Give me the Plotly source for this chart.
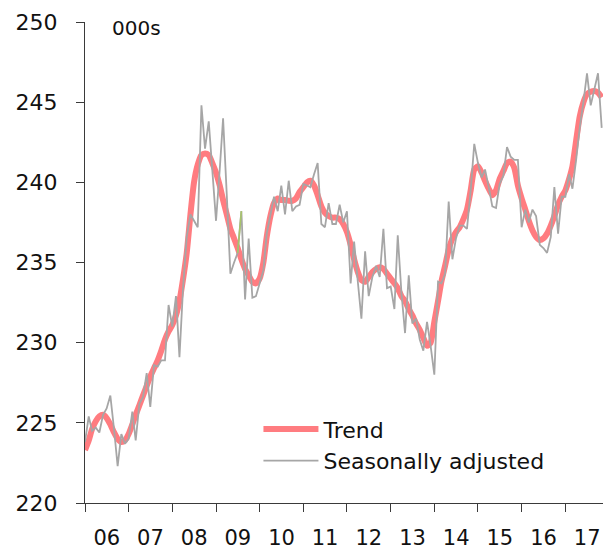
import pandas as pd
import plotly.graph_objects as go

# Monthly data, Jan 2006 - Nov 2017 (000s)
start_month = "2006-01-01"
n_months = 143

trend = [
    223.3, 223.9, 224.6, 225.1, 225.4, 225.5, 225.3, 224.9, 224.4, 224.0, 223.8, 223.9,
    224.3, 224.9, 225.5, 226.1, 226.7, 227.3, 227.9, 228.4, 228.9, 229.5, 230.2, 230.7,
    231.1, 231.7, 232.6, 234.0, 235.6, 238.0, 240.0, 241.1, 241.7, 241.8, 241.7, 241.2,
    240.6, 239.8, 238.9, 238.0, 237.1, 236.5, 235.9, 235.2, 234.6, 234.2, 233.8, 233.7,
    234.0, 235.0, 236.6, 237.9, 238.7, 239.0, 238.9, 238.9, 238.85, 238.85, 239.0, 239.4,
    239.7, 240.0, 240.1, 239.8, 239.2, 238.5, 238.1, 237.9, 237.8, 237.8, 237.7, 237.4,
    236.9, 236.1, 235.2, 234.4, 233.9, 233.8, 234.1, 234.4, 234.6, 234.7, 234.6, 234.3,
    234.0, 233.7, 233.4, 232.9, 232.6, 232.1, 231.7, 231.2, 230.8, 230.3, 229.8, 230.0,
    231.3, 232.6, 233.8, 234.8, 235.8, 236.5, 236.9, 237.2, 237.7, 238.3, 239.5, 240.8,
    241.0, 240.6, 240.1, 239.6, 239.2, 239.5, 240.2, 240.7, 241.2, 241.3, 240.9, 239.8,
    239.0, 238.3, 237.6, 237.0, 236.6, 236.4, 236.5, 236.8, 237.3, 237.9, 238.6, 239.1,
    239.5, 240.2, 241.0, 242.6, 244.1, 245.0, 245.5, 245.65, 245.7, 245.6, 245.3,
]

seasonally_adjusted = [
    223.8, 225.4, 224.5, 224.7, 224.4, 225.5, 225.9, 226.7, 224.6, 222.3, 224.3, 223.7,
    224.0, 225.7, 223.9, 226.2, 226.6, 228.1, 226.0, 228.6, 228.5, 228.9, 228.9, 232.35,
    231.0, 232.9, 229.1, 233.5, 236.6, 238.0, 237.6, 237.2, 244.8, 242.1, 243.8, 240.7,
    237.6, 240.8, 244.0, 239.2, 234.3, 235.0, 235.6, 238.2, 232.7, 236.5, 232.8, 232.9,
    233.7, 234.5, 236.8, 238.0, 239.1, 238.2, 239.8, 238.0, 240.1, 238.2, 238.5, 238.6,
    239.9, 239.8, 239.7, 240.5, 241.2, 237.4, 237.2, 238.7, 237.4, 237.4, 238.6, 237.5,
    238.2, 233.7, 236.3, 233.8, 231.5, 235.7, 232.9, 234.1, 234.8, 234.1, 237.1, 233.4,
    233.5, 232.1, 236.7, 233.1, 230.6, 234.2, 231.2, 231.5, 230.2, 229.5, 231.3, 229.8,
    228.0, 233.8, 233.7, 234.3, 238.8, 235.2, 236.5, 237.3, 237.3, 237.1, 239.5, 242.4,
    241.2, 240.3, 240.8, 239.7, 238.5, 238.4, 239.9, 240.4, 242.2, 241.6, 241.4, 241.4,
    237.2, 238.3, 237.5, 238.3, 237.9, 236.1, 235.9, 235.6, 236.6, 239.7, 236.8, 239.1,
    239.1, 240.5, 239.6, 241.4, 243.4, 245.0, 246.8, 244.8, 245.8, 246.8, 243.4,
]

y_ticks = [220, 225, 230, 235, 240, 245, 250]
series_names = ["Trend", "Seasonally adjusted"]
unit_label = "000s"

dates = pd.date_range(start_month, periods=n_months, freq="MS")

FONT = "DejaVu Sans"
AXIS_COLOR = "#3a3a3a"

fig = go.Figure()
fig.add_trace(go.Scatter(
    x=dates, y=trend, mode="lines", name=series_names[0],
    line=dict(color="#FF7C80", width=6, shape="spline", smoothing=0.6),
))
fig.add_trace(go.Scatter(
    x=dates, y=seasonally_adjusted, mode="lines", name=series_names[1],
    line=dict(color="#A6A6A6", width=1.8),
))
# small green-tinted segment visible in the original (2009)
fig.add_trace(go.Scatter(
    x=dates[42:44], y=seasonally_adjusted[42:44], mode="lines",
    line=dict(color="#A8C46A", width=1.6), showlegend=False, hoverinfo="skip",
))

# page body has an 8px margin, so the figure is sized to fit the window
fig.update_layout(
    width=603, height=541,
    margin=dict(l=77, r=2, t=14, b=46),
    paper_bgcolor="white", plot_bgcolor="white",
    font=dict(family=FONT, size=22, color="#111111"),
    showlegend=True,
    legend=dict(
        x=0.331, y=0.197, xanchor="left", yanchor="top",
        font=dict(family=FONT, size=22, color="#111111"),
        bgcolor="rgba(0,0,0,0)", itemwidth=55, tracegroupgap=0,
    ),
    annotations=[dict(
        x=0.047, y=0.988, xref="paper", yref="paper", text=unit_label,
        showarrow=False, xanchor="left", yanchor="middle",
        font=dict(family=FONT, size=20, color="#111111"),
    )],
)

fig.update_xaxes(
    type="date", range=["2006-01-01", "2018-01-01"],
    tick0="2006-01-01", dtick="M12", tickformat="%y", ticklabelmode="period",
    ticks="outside", ticklen=8, tickcolor=AXIS_COLOR, tickwidth=1,
    showline=True, linecolor=AXIS_COLOR, linewidth=1,
    showgrid=False, zeroline=False, automargin=False,
    tickfont=dict(family=FONT, size=21), ticklabelstandoff=8,
)
fig.update_yaxes(
    range=[220, 250], tickvals=y_ticks,
    ticks="outside", ticklen=8, tickcolor=AXIS_COLOR, tickwidth=1,
    showline=True, linecolor=AXIS_COLOR, linewidth=1,
    showgrid=False, zeroline=False, automargin=False,
    tickfont=dict(family=FONT, size=22), ticklabelstandoff=14,
)

fig.write_html("out.html")
